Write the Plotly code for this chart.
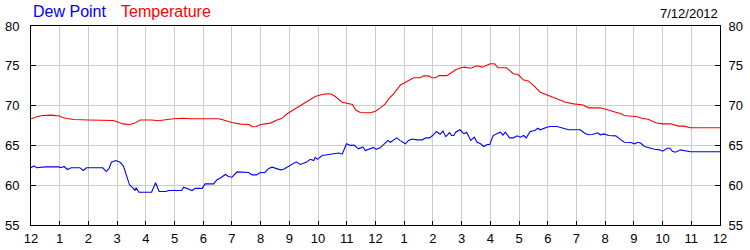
import plotly.graph_objects as go

# ---- data (hours after midnight, values in °F) ----
temp_hours = [0.0, 0.2, 0.4, 0.7, 1.0, 1.1, 1.25, 1.5, 2.0, 2.5, 2.87, 3.05, 3.2, 3.45, 3.62, 3.8, 4.2, 4.43,
              4.6, 4.96, 5.31, 5.55, 6.0, 6.53, 6.71, 7.0, 7.3, 7.6, 7.7, 7.85, 7.99, 8.34, 8.57, 8.74, 8.92,
              9.15, 9.45, 9.74, 9.9, 10.1, 10.31, 10.45, 10.6, 10.84, 11.0, 11.2, 11.3, 11.47, 11.82, 12.0,
              12.17, 12.34, 12.46, 12.63, 12.87, 13.1, 13.33, 13.56, 13.68, 13.85, 13.97, 14.1, 14.2, 14.49,
              14.6, 14.79, 14.97, 15.1, 15.31, 15.45, 15.54, 15.71, 15.85, 16.0, 16.15, 16.27, 16.56, 16.8,
              16.97, 17.14, 17.32, 17.51, 17.74, 17.97, 18.15, 18.38, 18.62, 18.9, 19.2, 19.43, 19.83, 20.01,
              20.2, 20.37, 20.55, 20.67, 20.94, 21.11, 21.29, 21.52, 21.76, 22.0, 22.28, 22.42, 22.55, 22.75,
              22.97, 24.0]
temperature = [68.34, 68.6, 68.75, 68.8, 68.7, 68.5, 68.38, 68.25, 68.2, 68.2, 68.13, 67.9, 67.7, 67.62, 67.8,
               68.2, 68.2, 68.1, 68.2, 68.34, 68.42, 68.34, 68.34, 68.34, 68.2, 67.88, 67.67, 67.62, 67.35,
               67.37, 67.62, 67.8, 68.2, 68.4, 68.97, 69.47, 70.14, 70.8, 71.15, 71.36, 71.48, 71.45, 71.14,
               70.43, 70.3, 70.14, 69.47, 69.13, 69.1, 69.3, 69.72, 70.22, 70.85, 71.48, 72.6, 73.03, 73.49,
               73.49, 73.74, 73.74, 73.49, 73.49, 73.76, 73.76, 74.0, 74.5, 74.75, 74.83, 74.7, 74.83, 75.0,
               74.83, 75.0, 75.25, 75.25, 74.75, 74.75, 74.0, 73.9, 73.24, 73.1, 72.52, 71.68, 71.34, 71.06,
               70.76, 70.43, 70.22, 70.1, 69.72, 69.72, 69.55, 69.4, 69.17, 68.97, 68.76, 68.67, 68.6, 68.42,
               68.25, 67.84, 67.71, 67.71, 67.58, 67.42, 67.42, 67.21, 67.21]

dew_hours = [0.0, 0.1, 0.2, 0.5, 0.97, 1.05, 1.15, 1.27, 1.4, 1.7, 1.82, 1.93, 2.5, 2.62, 2.72, 2.8, 2.95, 3.1,
             3.22, 3.33, 3.43, 3.55, 3.62, 3.66, 3.76, 4.2, 4.34, 4.46, 4.7, 4.8, 5.25, 5.32, 5.5, 5.61, 5.72,
             5.96, 6.07, 6.36, 6.48, 6.6, 6.77, 6.88, 7.0, 7.18, 7.58, 7.7, 7.85, 7.99, 8.15, 8.28, 8.4, 8.57,
             8.69, 8.8, 8.92, 9.09, 9.24, 9.38, 9.5, 9.6, 9.73, 9.85, 9.9, 9.98, 10.14, 10.43, 10.6, 10.72,
             10.84, 10.99, 11.13, 11.25, 11.41, 11.56, 11.65, 11.82, 11.93, 12.02, 12.16, 12.29, 12.43, 12.52,
             12.63, 12.74, 12.86, 13.04, 13.15, 13.27, 13.45, 13.63, 13.75, 13.88, 13.99, 14.12, 14.25, 14.35,
             14.45, 14.58, 14.65, 14.73, 14.79, 14.94, 15.08, 15.17, 15.32, 15.44, 15.54, 15.66, 15.77, 15.89,
             15.98, 16.1, 16.24, 16.35, 16.44, 16.52, 16.67, 16.81, 16.93, 17.05, 17.16, 17.25, 17.39, 17.57,
             17.65, 17.74, 17.97, 18.09, 18.32, 18.55, 18.73, 18.96, 19.13, 19.3, 19.42, 19.55, 19.74, 19.83,
             19.95, 20.12, 20.37, 20.55, 20.67, 20.9, 21.02, 21.14, 21.23, 21.37, 21.55, 21.72, 21.9, 22.0,
             22.16, 22.26, 22.34, 22.45, 22.62, 22.8, 22.97, 24.0]
dew_point = [62.19, 62.43, 62.2, 62.3, 62.3, 62.2, 62.35, 61.97, 62.2, 62.2, 61.85, 62.19, 62.19, 61.72, 62.1,
             62.9, 63.1, 62.9, 62.4, 61.0, 60.05, 59.67, 59.33, 59.67, 59.12, 59.12, 60.3, 59.2, 59.2, 59.33,
             59.33, 59.75, 59.55, 59.33, 59.6, 59.6, 60.17, 60.17, 60.7, 60.9, 61.34, 61.1, 61.0, 61.68, 61.6,
             61.3, 61.3, 61.6, 61.6, 62.1, 62.27, 62.1, 61.93, 62.0, 62.27, 62.56, 62.94, 62.6, 62.76, 62.9,
             63.25, 63.1, 63.5, 63.25, 63.73, 63.86, 63.98, 64.05, 63.9, 65.2, 65.0, 65.05, 64.57, 64.8, 64.36,
             64.57, 64.75, 64.5, 64.7, 65.12, 65.62, 65.4, 65.7, 65.95, 65.6, 65.2, 65.62, 65.8, 65.7, 65.7,
             65.95, 65.95, 66.24, 66.75, 66.4, 66.8, 66.1, 66.6, 66.24, 66.24, 66.66, 66.96, 66.45, 66.66,
             65.62, 66.03, 65.4, 65.2, 64.86, 65.12, 65.12, 66.24, 66.5, 66.66, 66.3, 66.66, 65.95, 65.95,
             66.2, 66.03, 66.24, 65.95, 66.75, 66.9, 67.16, 66.96, 67.29, 67.37, 67.37, 67.16, 66.96, 66.96,
             66.96, 66.5, 66.33, 66.37, 66.58, 66.33, 66.45, 66.24, 66.2, 65.7, 65.4, 65.37, 65.2, 65.4, 65.3,
             64.86, 64.65, 64.52, 64.44, 64.27, 64.65, 64.65, 64.27, 64.15, 64.44, 64.27, 64.2, 64.2]

tick_hours = list(range(0, 25))
tick_labels = ["12", "1", "2", "3", "4", "5", "6", "7", "8", "9", "10", "11",
               "12", "1", "2", "3", "4", "5", "6", "7", "8", "9", "10", "11", "12"]
y_ticks = [55, 60, 65, 70, 75, 80]
date_label = "7/12/2012"

FONT = "Liberation Sans, Arial, sans-serif"
GRID = "#cccccc"

fig = go.Figure()
fig.add_trace(go.Scatter(x=temp_hours, y=temperature, mode="lines", name="Temperature",
                         line=dict(color="#ff0000", width=1.1), showlegend=False))
fig.add_trace(go.Scatter(x=dew_hours, y=dew_point, mode="lines", name="Dew Point",
                         line=dict(color="#0000ff", width=1.1), showlegend=False))
# invisible trace to activate the right-hand axis
fig.add_trace(go.Scatter(x=[tick_hours[0]], y=[y_ticks[0]], yaxis="y2", mode="markers",
                         marker=dict(opacity=0), showlegend=False, hoverinfo="skip"))

axis_font = dict(family=FONT, size=13, color="#000000")

fig.update_layout(
    width=750, height=250,
    margin=dict(l=31, r=30, t=26, b=25, autoexpand=False),
    paper_bgcolor="white", plot_bgcolor="white",
    font=dict(family=FONT, size=13, color="#000000"),
    xaxis=dict(range=[0, 24], tickmode="array", tickvals=tick_hours, ticktext=tick_labels,
               ticks="inside", ticklen=4, tickcolor="#000000", showgrid=True, gridcolor=GRID,
               gridwidth=1, showline=True, linecolor="#000000", linewidth=1, mirror=True,
               zeroline=False, tickfont=axis_font, fixedrange=True, ticklabelstandoff=1,
               automargin=False),
    yaxis=dict(range=[55, 80], tickmode="array", tickvals=y_ticks, ticks="inside", ticklen=5,
               tickcolor="#000000", showgrid=True, gridcolor=GRID, gridwidth=1, showline=True,
               linecolor="#000000", linewidth=1, mirror=True, zeroline=False, tickfont=axis_font,
               ticklabelstandoff=8, automargin=False),
    yaxis2=dict(range=[55, 80], tickmode="array", tickvals=y_ticks, overlaying="y", side="right",
                ticks="inside", ticklen=5, tickcolor="#000000", showgrid=False, showline=True,
                linecolor="#000000", linewidth=1, zeroline=False, tickfont=axis_font,
                ticklabelstandoff=5, automargin=False),
    annotations=[
        dict(text="Dew Point", xref="paper", yref="paper", x=0.0, y=1.0705, xanchor="left",
             yanchor="middle", showarrow=False, font=dict(family=FONT, size=16, color="#0000ff")),
        dict(text="Temperature", xref="paper", yref="paper", x=0.128, y=1.0705, xanchor="left",
             yanchor="middle", showarrow=False, font=dict(family=FONT, size=16, color="#ff0000")),
        dict(text=date_label, xref="paper", yref="paper", x=1.0, y=1.065, xanchor="right",
             yanchor="middle", showarrow=False, font=dict(family=FONT, size=13, color="#000000")),
    ],
)

fig.write_html("out.html")
